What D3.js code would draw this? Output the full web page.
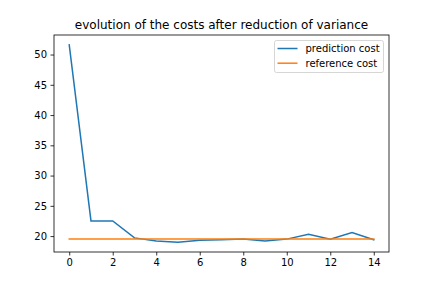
<!DOCTYPE html>
<html>
<head>
<meta charset="utf-8">
<script src="https://cdn.jsdelivr.net/npm/d3@7"></script>
<style>
  html, body { margin: 0; padding: 0; background: #fff; }
  svg { display: block; font-family: "DejaVu Sans", sans-serif; }
</style>
</head>
<body>
<svg id="chart" width="432" height="288"></svg>
<script>
const iterations = [0,1,2,3,4,5,6,7,8,9,10,11,12,13,14];
const predictionCost = [51.6, 22.5, 22.5, 19.7, 19.2, 19.0, 19.3, 19.4, 19.5, 19.2, 19.5, 20.3, 19.5, 20.6, 19.4];
const referenceCost = [19.5, 19.5, 19.5, 19.5, 19.5, 19.5, 19.5, 19.5, 19.5, 19.5, 19.5, 19.5, 19.5, 19.5, 19.5];
const xTicks = [0, 2, 4, 6, 8, 10, 12, 14];
const yTicks = [20, 25, 30, 35, 40, 45, 50];
const seriesNames = ["prediction cost", "reference cost"];
const seriesColors = ["#1f77b4", "#ff7f0e"];
const titleText = "evolution of the costs after reduction of variance";

const W = 432, H = 288;
const margin = {left: 54, right: 43, top: 35, bottom: 36};
const svg = d3.select("#chart");

const xMin = d3.min(iterations), xMax = d3.max(iterations);
const xPad = (xMax - xMin) * 0.05;
const x = d3.scaleLinear().domain([xMin - xPad, xMax + xPad]).range([margin.left, W - margin.right]);

const allY = predictionCost.concat(referenceCost);
const yMin = d3.min(allY), yMax = d3.max(allY);
const yPad = (yMax - yMin) * 0.05;
const y = d3.scaleLinear().domain([yMin - yPad, yMax + yPad]).range([H - margin.bottom, margin.top]);

// axes
const xAxis = d3.axisBottom(x).tickValues(xTicks).tickSize(3.5).tickPadding(3.5).tickFormat(d3.format("d"));
const yAxis = d3.axisLeft(y).tickValues(yTicks).tickSize(3.5).tickPadding(3.5).tickFormat(d3.format("d"));

const gx = svg.append("g").attr("transform", `translate(0,${H - margin.bottom})`).call(xAxis);
const gy = svg.append("g").attr("transform", `translate(${margin.left},0)`).call(yAxis);
[gx, gy].forEach(g => {
  g.select(".domain").remove();
  g.selectAll(".tick line").attr("stroke", "#000").attr("stroke-width", 0.8);
  g.selectAll(".tick text").attr("fill", "#000").style("font-size", "10px").style("font-family", "DejaVu Sans, sans-serif");
});

// lines
const line = d3.line().x((d, i) => x(iterations[i])).y(d => y(d));
const plot = svg.append("g");
plot.append("path").datum(predictionCost).attr("d", line)
  .attr("fill", "none").attr("stroke", seriesColors[0]).attr("stroke-width", 1.5).attr("stroke-linecap", "square");
plot.append("path").datum(referenceCost).attr("d", line)
  .attr("fill", "none").attr("stroke", seriesColors[1]).attr("stroke-width", 1.5).attr("stroke-linecap", "square");

// spines
svg.append("rect")
  .attr("x", margin.left).attr("y", margin.top)
  .attr("width", W - margin.left - margin.right)
  .attr("height", H - margin.top - margin.bottom)
  .attr("fill", "none").attr("stroke", "#000").attr("stroke-width", 0.8);

// title
svg.append("text")
  .attr("x", (margin.left + W - margin.right) / 2)
  .attr("y", 28.5)
  .attr("text-anchor", "middle")
  .style("font-size", "12px")
  .attr("fill", "#000")
  .text(titleText);

// legend
const lg = svg.append("g");
lg.append("rect")
  .attr("x", 274.5).attr("y", 40.5).attr("width", 109).attr("height", 32).attr("rx", 2)
  .attr("fill", "#fff").attr("fill-opacity", 0.8).attr("stroke", "#cccccc").attr("stroke-width", 0.8);
seriesNames.forEach((name, i) => {
  const yy = 48.5 + i * 14.7;
  lg.append("line").attr("x1", 277.5).attr("x2", 297.5).attr("y1", yy).attr("y2", yy)
    .attr("stroke", seriesColors[i]).attr("stroke-width", 1.5);
  lg.append("text").attr("x", 305.5).attr("y", yy + 3.6)
    .style("font-size", "10px").attr("fill", "#000").text(name);
});
</script>
</body>
</html>
